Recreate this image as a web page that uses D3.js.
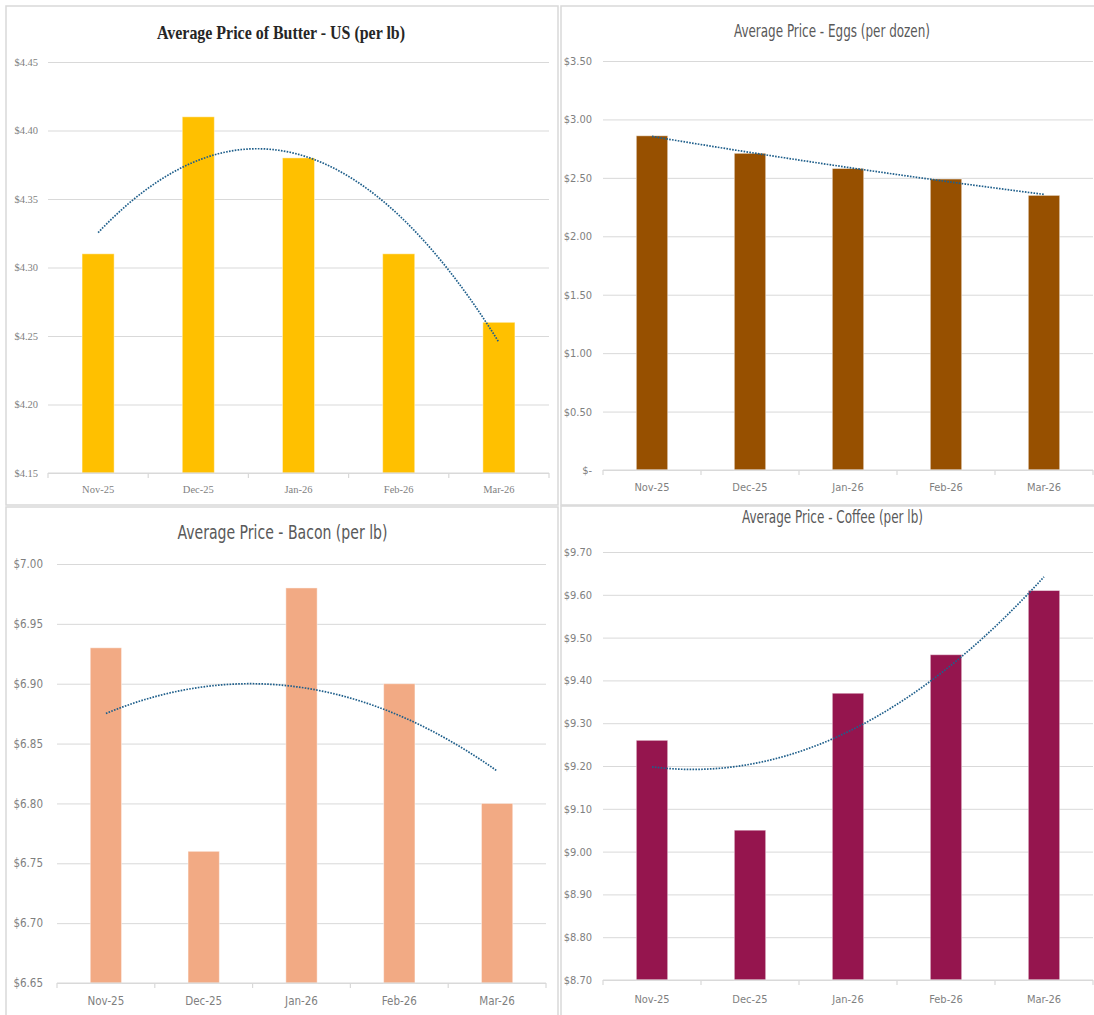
<!DOCTYPE html>
<html>
<head>
<meta charset="utf-8">
<script src="https://cdn.jsdelivr.net/npm/d3@7"></script>
<style>
  html, body { margin: 0; padding: 0; background: #ffffff; }
  svg { display: block; }
</style>
</head>
<body>
<svg id="chart" width="1094" height="1015"></svg>
<script>
// ---------------- data ----------------
const categories = ["Nov-25", "Dec-25", "Jan-26", "Feb-26", "Mar-26"];

const butterPrices = [4.31, 4.41, 4.38, 4.31, 4.26];
const eggsPrices   = [2.86, 2.71, 2.58, 2.49, 2.35];
const baconPrices  = [6.93, 6.76, 6.98, 6.90, 6.80];
const coffeePrices = [9.26, 9.05, 9.37, 9.46, 9.61];

const butterTicks = [4.15, 4.20, 4.25, 4.30, 4.35, 4.40, 4.45];
const eggsTicks   = [0, 0.5, 1.0, 1.5, 2.0, 2.5, 3.0, 3.5];
const baconTicks  = [6.65, 6.70, 6.75, 6.80, 6.85, 6.90, 6.95, 7.00];
const coffeeTicks = [8.70, 8.80, 8.90, 9.00, 9.10, 9.20, 9.30, 9.40, 9.50, 9.60, 9.70];

const titles = [
  "Average Price of Butter - US (per lb)",
  "Average Price - Eggs (per dozen)",
  "Average Price - Bacon (per lb)",
  "Average Price - Coffee (per lb)"
];

// ---------------- helpers ----------------
const money = v => v === 0 ? "$-" : "$" + v.toFixed(2);

// least squares quadratic fit over x = 1..n (Excel polynomial trendline, order 2)
function quadFit(ys) {
  const n = ys.length;
  let S = [0,0,0,0,0], T = [0,0,0];
  ys.forEach((y, i) => {
    const x = i + 1;
    for (let k = 0; k < 5; k++) S[k] += Math.pow(x, k);
    for (let k = 0; k < 3; k++) T[k] += y * Math.pow(x, k);
  });
  const A = [[S[0],S[1],S[2],T[0]],[S[1],S[2],S[3],T[1]],[S[2],S[3],S[4],T[2]]];
  for (let c = 0; c < 3; c++) {
    let p = c;
    for (let r = c+1; r < 3; r++) if (Math.abs(A[r][c]) > Math.abs(A[p][c])) p = r;
    [A[c], A[p]] = [A[p], A[c]];
    for (let r = 0; r < 3; r++) {
      if (r === c) continue;
      const f = A[r][c] / A[c][c];
      for (let k = c; k < 4; k++) A[r][k] -= f * A[c][k];
    }
  }
  const a0 = A[0][3]/A[0][0], a1 = A[1][3]/A[1][1], a2 = A[2][3]/A[2][2];
  return x => a0 + a1*x + a2*x*x;
}

const svg = d3.select("#chart");

function drawPanel(cfg) {
  const g = svg.append("g");
  // panel frame
  g.append("rect")
    .attr("x", cfg.panel[0]).attr("y", cfg.panel[1])
    .attr("width", cfg.panel[2] - cfg.panel[0]).attr("height", cfg.panel[3] - cfg.panel[1])
    .attr("fill", "#ffffff").attr("stroke", "#d9d9d9").attr("stroke-width", 1.5);

  const [L, T, R, B] = cfg.plot;
  const x = d3.scaleBand().domain(categories).range([L, R]).padding(0);
  const y = d3.scaleLinear().domain(cfg.domain).range([B, T]);

  // gridlines + y labels
  const ya = g.append("g").attr("transform", `translate(${L},0)`)
    .call(d3.axisLeft(y).tickValues(cfg.ticks).tickSize(-(R - L)).tickPadding(cfg.yPad).tickFormat(money));
  ya.select(".domain").remove();
  ya.selectAll("line").attr("stroke", "#d9d9d9").attr("stroke-width", 1);
  ya.selectAll("text")
    .attr("fill", "#7f7f7f")
    .style("font-family", cfg.axisFont)
    .style("font-size", cfg.axisSize + "px");

  // bars
  const bw = x.bandwidth() * 0.32;
  g.append("g").selectAll("rect").data(cfg.values).join("rect")
    .attr("x", (d, i) => x(categories[i]) + (x.bandwidth() - bw) / 2)
    .attr("y", d => y(d))
    .attr("width", bw)
    .attr("height", d => y(cfg.domain[0]) - y(d))
    .attr("fill", cfg.color)
    .attr("stroke", "rgba(255,255,255,0.45)")
    .attr("stroke-width", 1);

  // x axis line and ticks at band boundaries
  g.append("line").attr("x1", L).attr("x2", R).attr("y1", B).attr("y2", B)
    .attr("stroke", "#d9d9d9").attr("stroke-width", 1.2);
  const bounds = categories.map(c => x(c)).concat([x.range()[1]]);
  g.append("g").selectAll("line").data(bounds).join("line")
    .attr("x1", d => d).attr("x2", d => d).attr("y1", B).attr("y2", B + 5)
    .attr("stroke", "#d9d9d9").attr("stroke-width", 1.2);

  const xa = g.append("g").attr("transform", `translate(0,${B})`)
    .call(d3.axisBottom(x).tickSize(0).tickPadding(cfg.xPad));
  xa.select(".domain").remove();
  xa.selectAll("text")
    .attr("fill", "#7f7f7f")
    .style("font-family", cfg.axisFont)
    .style("font-size", cfg.axisSize + "px");

  // polynomial trendline
  const f = quadFit(cfg.values);
  const xi = d3.scaleLinear().domain([1, categories.length])
    .range([x(categories[0]) + x.bandwidth()/2, x(categories[categories.length-1]) + x.bandwidth()/2]);
  const pts = d3.range(0, 81).map(k => 1 + k * (categories.length - 1) / 80);
  g.append("path")
    .datum(pts)
    .attr("d", d3.line().x(t => xi(t)).y(t => y(f(t))))
    .attr("fill", "none")
    .attr("stroke", "#1f5f8b")
    .attr("stroke-width", 1.7)
    .attr("stroke-dasharray", "1.6 1.3");

  // title
  g.append("text")
    .attr("x", cfg.titlePos[0]).attr("y", cfg.titlePos[1])
    .attr("text-anchor", "middle")
    .attr("fill", cfg.titleColor)
    .attr("textLength", cfg.titleWidth)
    .attr("lengthAdjust", "spacingAndGlyphs")
    .style("font-family", cfg.titleFont)
    .style("font-weight", cfg.titleWeight)
    .style("font-size", cfg.titleSize + "px")
    .text(cfg.title);
}

const sansNarrow = "'Liberation Sans Narrow', 'DejaVu Sans Condensed', 'Roboto', sans-serif";
const serifNarrow = "'Liberation Serif', 'DejaVu Serif Condensed', serif";

drawPanel({
  panel: [6, 6, 558, 505], plot: [48, 62, 549, 473],
  domain: [4.15, 4.45], ticks: butterTicks, values: butterPrices, color: "#ffc000",
  yPad: 10, xPad: 13, axisFont: serifNarrow, axisSize: 10.5,
  title: titles[0], titlePos: [281, 39], titleWidth: 248, titleSize: 19,
  titleFont: serifNarrow, titleWeight: "bold", titleColor: "#262626"
});

drawPanel({
  panel: [561, 6, 1100, 505], plot: [603, 61, 1093, 470],
  domain: [0, 3.5], ticks: eggsTicks, values: eggsPrices, color: "#975000",
  yPad: 11, xPad: 13, axisFont: sansNarrow, axisSize: 11,
  title: titles[1], titlePos: [832, 37], titleWidth: 196, titleSize: 17,
  titleFont: sansNarrow, titleWeight: "normal", titleColor: "#595959"
});

drawPanel({
  panel: [6, 507, 558, 1020], plot: [57, 564, 546, 983],
  domain: [6.65, 7.00], ticks: baconTicks, values: baconPrices, color: "#f2aa84",
  yPad: 14, xPad: 14, axisFont: sansNarrow, axisSize: 11.5,
  title: titles[2], titlePos: [282.5, 539], titleWidth: 210, titleSize: 19,
  titleFont: sansNarrow, titleWeight: "normal", titleColor: "#595959"
});

drawPanel({
  panel: [561, 506, 1100, 1020], plot: [603, 552, 1093, 980],
  domain: [8.70, 9.70], ticks: coffeeTicks, values: coffeePrices, color: "#95154e",
  yPad: 11, xPad: 15, axisFont: sansNarrow, axisSize: 11,
  title: titles[3], titlePos: [832.5, 523], titleWidth: 181, titleSize: 17,
  titleFont: sansNarrow, titleWeight: "normal", titleColor: "#595959"
});
</script>
</body>
</html>
